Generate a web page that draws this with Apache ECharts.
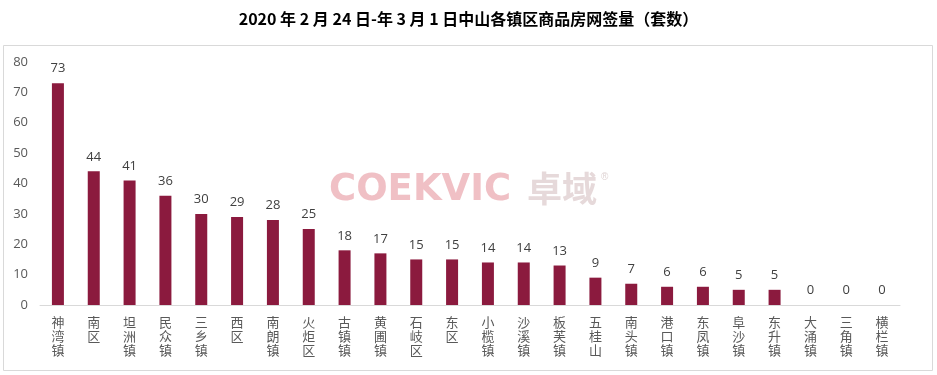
<!DOCTYPE html>
<html><head><meta charset="utf-8">
<script src="https://cdn.jsdelivr.net/npm/echarts@6/dist/echarts.min.js"></script>
<style>html,body{margin:0;padding:0;background:#fff}#c{width:937px;height:375px}</style>
</head><body><div id="c"></div>
<script>
const titleText = '2020 年 2 月 24 日-年 3 月 1 日中山各镇区商品房网签量（套数）';
const categories = ['神湾镇','南区','坦洲镇','民众镇','三乡镇','西区','南朗镇','火炬区','古镇镇','黄圃镇','石岐区','东区','小榄镇','沙溪镇','板芙镇','五桂山','南头镇','港口镇','东凤镇','阜沙镇','东升镇','大涌镇','三角镇','横栏镇'];
const values = [73,44,41,36,30,29,28,25,18,17,15,15,14,14,13,9,7,6,6,5,5,0,0,0];
const yTicks = [0,10,20,30,40,50,60,70,80];

const chart = echarts.init(document.getElementById('c'));
chart.setOption({
  animation:false,
  backgroundColor:'#fff',
  title:{text:titleText,left:'center',top:6,textStyle:{fontFamily:'"Noto Sans CJK SC", sans-serif',fontSize:16,fontWeight:'bold',color:'#000'}},
  graphic:[
    {type:'rect',shape:{x:3.5,y:45.5,width:929,height:325},style:{fill:'none',stroke:'#d9d9d9',lineWidth:1},z:-1},
    {type:'text',left:329,top:172,style:{text:'COEKVIC',font:'bold 37px "DejaVu Sans", sans-serif',fill:'rgba(226,130,140,0.5)'},z:0},
    {type:'text',left:527,top:171,style:{text:'卓域',font:'bold 35px "Noto Sans CJK SC", sans-serif',fill:'rgba(205,180,182,0.5)'},z:0},
    {type:'text',left:601,top:172,style:{text:'®',font:'10px sans-serif',fill:'rgba(200,180,180,0.6)'},z:0}
  ],
  grid:{left:40,right:37,top:62,bottom:70},
  xAxis:{type:'category',data:categories,
    axisLine:{lineStyle:{color:'#d9d9d9'}},axisTick:{show:false},
    axisLabel:{interval:0,color:'#595959',fontSize:13,lineHeight:14,margin:10,fontFamily:'"Noto Sans CJK SC", sans-serif',
      formatter:v=>v.split('').join('\n')}},
  yAxis:{type:'value',min:yTicks[0],max:yTicks[yTicks.length-1],interval:10,
    axisLine:{show:false},axisTick:{show:false},splitLine:{show:false},
    axisLabel:{color:'#595959',fontSize:13,margin:12,fontFamily:'"Open Sans", sans-serif'}},
  series:[{type:'bar',data:values,barWidth:12,itemStyle:{color:'#8b1a3e'},
    label:{show:true,position:'top',distance:8,color:'#404040',fontSize:13,fontFamily:'"Open Sans", sans-serif'}}]
});
</script></body></html>
